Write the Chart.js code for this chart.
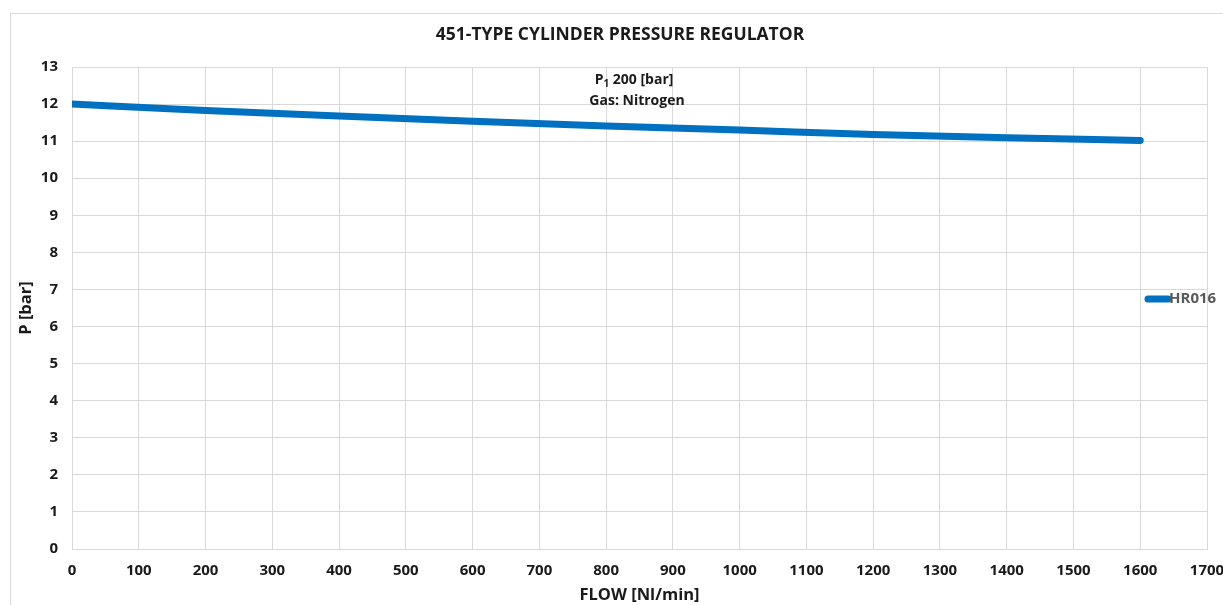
<!DOCTYPE html>
<html>
<head>
<meta charset="utf-8">
<script src="https://cdn.jsdelivr.net/npm/chart.js@4/dist/chart.umd.min.js"></script>
<style>
  html, body { margin: 0; padding: 0; background: #fff; overflow: hidden; }
  #wrap { width: 1223px; height: 605px; position: relative; }
</style>
</head>
<body>
<div id="wrap"><canvas id="c"></canvas></div>
<script>
// flow [Nl/min] vs outlet pressure [bar]
const flow = [0, 200, 400, 600, 800, 1000, 1200, 1400, 1600];
const pressure = [12.0, 11.83, 11.68, 11.54, 11.41, 11.30, 11.18, 11.09, 11.02];
const seriesName = 'HR016';
const titleText = '451-TYPE CYLINDER PRESSURE REGULATOR';
const noteLines = ['200 [bar]', 'Gas: Nitrogen'];

const FONT = '"Open Sans", sans-serif';
const BLUE = '#0070C0';
const INK = '#1a1a1a';

// title, legend and the note in the middle, drawn by hand like the excel one
const extras = {
    id: 'extras',
    afterDraw(chart) {
        let ctx = chart.ctx;
        ctx.save();
        // outer frame
        ctx.strokeStyle = '#d9d9d9';
        ctx.lineWidth = 1;
        ctx.strokeRect(10.5, 13.5, 1300, 700);

        // title (excel centres it a bit right of the plot)
        ctx.fillStyle = INK;
        ctx.textBaseline = 'middle';
        ctx.textAlign = 'center';
        ctx.font = 'bold 17.5px ' + FONT;
        ctx.fillText(titleText, 620, 35);

        // note
        ctx.font = 'bold 14px ' + FONT;
        let cx = 634;
        let wP = ctx.measureText('P').width;
        ctx.font = 'bold 10px ' + FONT;
        let w1 = ctx.measureText('1').width;
        ctx.font = 'bold 14px ' + FONT;
        let wRest = ctx.measureText(' ' + noteLines[0]).width;
        let x0 = cx - (wP + w1 + wRest) / 2;
        ctx.textAlign = 'left';
        ctx.fillText('P', x0, 80);
        ctx.font = 'bold 10px ' + FONT;
        ctx.fillText('1', x0 + wP, 84);
        ctx.font = 'bold 14px ' + FONT;
        ctx.fillText(' ' + noteLines[0], x0 + wP + w1, 80);
        ctx.textAlign = 'center';
        ctx.fillText(noteLines[1], 637, 101);

        // legend
        ctx.strokeStyle = BLUE;
        ctx.lineWidth = 7;
        ctx.lineCap = 'round';
        ctx.beginPath();
        ctx.moveTo(1148, 299);
        ctx.lineTo(1168, 299);
        ctx.stroke();
        ctx.fillStyle = '#595959';
        ctx.textAlign = 'left';
        ctx.font = 'bold 15px ' + FONT;
        ctx.fillText(seriesName, 1169, 299);
        ctx.restore();
    }
};

new Chart(document.getElementById('c'), {
    type: 'line',
    data: {
        datasets: [{
            label: seriesName,
            data: flow.map((f, i) => ({x: f, y: pressure[i]})),
            borderColor: BLUE,
            backgroundColor: BLUE,
            borderWidth: 7,
            borderCapStyle: 'round',
            pointRadius: 0,
            cubicInterpolationMode: 'monotone'
        }]
    },
    options: {
        responsive: true,
        maintainAspectRatio: false,
        animation: false,
        layout: { padding: { left: 10, right: 16, top: 67, bottom: 0 } },
        plugins: {
            legend: { display: false },
            tooltip: { enabled: false },
            title: { display: false }
        },
        scales: {
            x: {
                type: 'linear',
                min: 0,
                max: 1700,
                ticks: {
                    stepSize: 100,
                    padding: 13,
                    color: INK,
                    font: { family: FONT, size: 15, weight: 'bold' },
                    callback: v => String(v)
                },
                grid: { color: '#d9d9d9', drawTicks: false },
                border: { color: '#d9d9d9' },
                title: {
                    display: true,
                    text: 'FLOW [Nl/min]',
                    color: INK,
                    font: { family: FONT, size: 16.5, weight: 'bold' },
                    padding: { top: 2, bottom: 0 }
                },
                afterFit(scale) {
                    scale.height = 56;
                    scale.paddingRight = 0;
                }
            },
            y: {
                min: 0,
                max: 13,
                ticks: {
                    stepSize: 1,
                    padding: 14,
                    color: INK,
                    font: { family: FONT, size: 15, weight: 'bold' }
                },
                grid: { color: '#d9d9d9', drawTicks: false },
                border: { color: '#d9d9d9' },
                title: {
                    display: true,
                    text: 'P [bar]',
                    color: INK,
                    font: { family: FONT, size: 16.5, weight: 'bold' },
                    padding: { top: 6, bottom: 0 }
                },
                afterFit(scale) { scale.width = 62; }
            }
        }
    },
    plugins: [extras]
});
</script>
</body>
</html>
